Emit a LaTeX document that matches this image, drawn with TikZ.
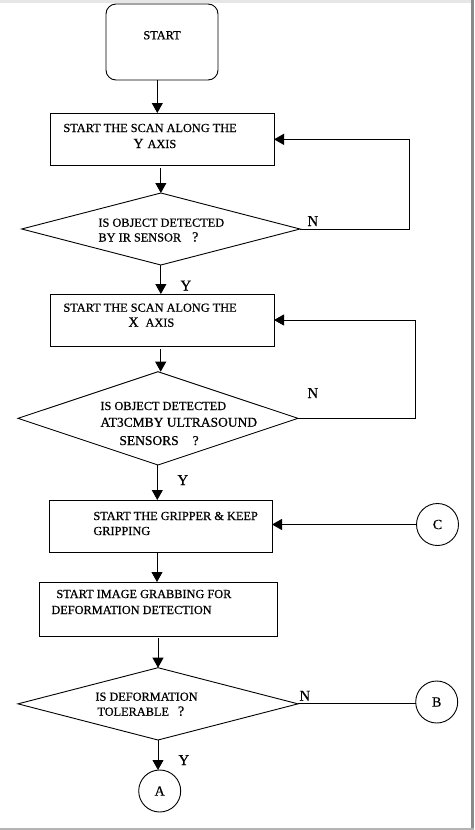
\documentclass[tikz,border=0pt]{standalone}
\usepackage{fontspec}
\setmainfont{Liberation Serif}[FakeBold=0.7]
\usetikzlibrary{shapes.geometric,arrows.meta}
\definecolor{framegray}{HTML}{8A8A8A}
\definecolor{bandgray}{HTML}{E6E6E6}
\definecolor{botgray}{HTML}{B4B4B4}
\begin{document}
\begin{tikzpicture}[x=1pt,y=-1pt,
  line width=0.9pt,
  box/.style={draw,line width=0.9pt,inner sep=0pt,outer sep=0pt},
  decision/.style={draw,diamond,line width=0.9pt,inner sep=0pt,outer sep=0pt},
  conn/.style={draw,circle,line width=0.9pt,inner sep=0pt,outer sep=0pt,minimum size=42pt,font=\fontsize{14}{15}\selectfont},
  txt/.style={anchor=base west,inner sep=0pt,font=\fontsize{12.3}{15}\selectfont},
  bigtxt/.style={anchor=base west,inner sep=0pt,font=\fontsize{13.5}{15}\selectfont},
  lbl/.style={anchor=base west,inner sep=0pt,font=\fontsize{15}{16}\selectfont},
  arr/.style={-{Triangle[length=10pt,width=11pt]}}]
\useasboundingbox (0,0) rectangle (474,830);
% frame
\fill[bandgray] (0,0) rectangle (474,2.7);
\fill[framegray] (471.3,0) rectangle (474,830);
\fill[botgray] (0,827.7) rectangle (474,830);

% shapes
\node[box,rounded corners=10pt,minimum width=112pt,minimum height=76pt] (start) at (162,42) {};
\node[box,minimum width=224pt,minimum height=52.7pt] (box1) at (162,139.35) {};
\node[decision,minimum width=278.3pt,minimum height=72pt] (dia1) at (160.85,229) {};
\node[box,minimum width=224pt,minimum height=52pt] (box2) at (162,320) {};
\node[decision,minimum width=280pt,minimum height=93.3pt] (dia2) at (158,418.35) {};
\node[box,minimum width=223pt,minimum height=52pt] (box3) at (160.5,526) {};
\node[box,minimum width=238pt,minimum height=54pt] (box4) at (158,609) {};
\node[decision,minimum width=280pt,minimum height=72.3pt] (dia3) at (158,703.85) {};
\node[conn] (C) at (437.5,524.5) {C};
\node[conn] (B) at (436.7,702) {B};
\node[conn] (A) at (159.7,791) {A};

% texts
\node[txt] (t1) at (143,39.3) {START};
\node[txt] (t2) at (63,132) {START THE SCAN ALONG THE};
\node[txt] (t3) at (133,148) {{\fontsize{14}{15}\selectfont Y}\hspace{4pt}AXIS};
\node[txt] (t4) at (98,226.7) {IS OBJECT DETECTED};
\node[txt] (t5) at (98,241.5) {BY IR SENSOR\hspace{11pt}{\fontsize{14}{15}\selectfont ?}};
\node[txt] (t6) at (63,311.7) {START THE SCAN ALONG THE};
\node[txt] (t7) at (128,326.7) {{\fontsize{14}{15}\selectfont X}\hspace{7pt}AXIS};
\node[txt] (t8) at (100,410) {IS OBJECT DETECTED};
\node[bigtxt] (t9) at (100,426.7) {AT3CMBY ULTRASOUND};
\node[bigtxt] (t10) at (119,445) {SENSORS\hspace{14pt}?};
\node[txt] (t11) at (93,520) {START THE GRIPPER \& KEEP};
\node[txt] (t12) at (93,535) {GRIPPING};
\node[txt] (t13) at (56,598) {START IMAGE GRABBING FOR};
\node[txt] (t14) at (51,614) {DEFORMATION DETECTION};
\node[txt] (t15) at (95,700.7) {IS DEFORMATION};
\node[txt] (t16) at (97,715.7) {TOLERABLE\hspace{9pt}{\fontsize{14}{15}\selectfont ?}};

% branch labels
\node[lbl] (n1) at (307,226) {N};
\node[lbl] (y1) at (180,290.5) {Y};
\node[lbl] (n2) at (307,398) {N};
\node[lbl] (y2) at (177,485) {Y};
\node[lbl] (n3) at (299,700.7) {N};
\node[lbl] (y3) at (178,765) {Y};

% connectors
\draw[arr] (start.south -| 157.3,0) -- (box1.north -| 157.3,0);
\draw[arr] ([yshift=-2.5pt]box1.south -| dia1.north) -- (dia1.north);
\draw[arr] (dia1.east) -- ++(109.5,0) |- (box1.east);
\draw[arr] (dia1.south) -- (box2.north -| dia1.south);
\draw[arr] ([yshift=-2.5pt]box2.south -| 160.7,0) -- (dia2.north -| 160.7,0);
\draw[arr] (dia2.east) -- ++(117,0) |- (box2.east);
\draw[arr] (dia2.south -| 157.3,0) -- (box3.north -| 157.3,0);
\draw[arr] (C.west) -- (box3.east |- C.west);
\draw[arr] (box3.south -| 157,0) -- (box4.north -| 157,0);
\draw[arr] ([yshift=-2pt]box4.south -| dia3.north) -- (dia3.north);
\draw (dia3.east) -- (dia3.east -| B.west);
\draw[arr] (dia3.south) -- (A.north -| dia3.south);
\end{tikzpicture}
\end{document}
